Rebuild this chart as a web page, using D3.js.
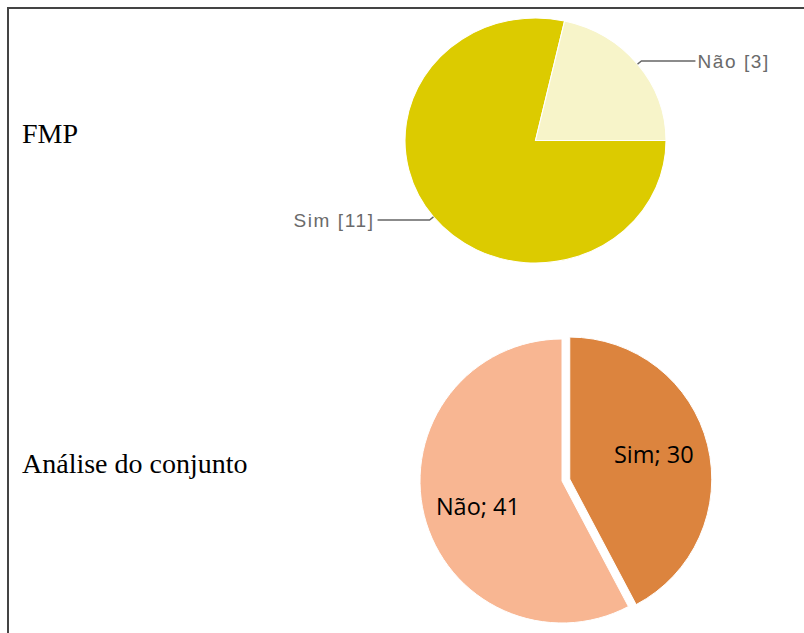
<!DOCTYPE html>
<html>
<head>
<meta charset="utf-8">
<script src="https://cdn.jsdelivr.net/npm/d3@7"></script>
<style>
  html, body { margin: 0; padding: 0; background: #fff; }
  svg { display: block; }
</style>
</head>
<body>
<div id="chart"></div>
<script>
// FMP (top pie)
const fmpLabels = ['Sim', 'Não'];
const fmpValues = [11, 3];
const fmpColors = ['#dccb00', '#f7f4c9'];

// Análise do conjunto (bottom pie)
const conjLabels = ['Sim', 'Não'];
const conjValues = [30, 41];
const conjColors = ['#dc843e', '#f8b692'];

const rowTitles = ['FMP', 'Análise do conjunto'];

const width = 804, height = 633;

const svg = d3.select('#chart').append('svg')
  .attr('width', width)
  .attr('height', height);

// table borders (top + left)
svg.append('line')
  .attr('x1', 7).attr('x2', width)
  .attr('y1', 8).attr('y2', 8)
  .attr('stroke', '#444').attr('stroke-width', 2);
svg.append('line')
  .attr('x1', 8).attr('x2', 8)
  .attr('y1', 7).attr('y2', height)
  .attr('stroke', '#444').attr('stroke-width', 2);

// row titles
svg.selectAll('text.row')
  .data(rowTitles)
  .enter().append('text')
  .attr('class', 'row')
  .attr('x', 22)
  .attr('y', (d, i) => [143, 473][i])
  .attr('font-family', '"Liberation Serif", "Times New Roman", serif')
  .attr('font-size', 28)
  .attr('fill', '#000')
  .text(d => d);

// ---- top pie (google chart look, stretched horizontally) ----
const topCx = 535.5, topCy = 140.5, topRy = 122.5, topRx = 130.5;
const sx = topRx / topRy;

const topPie = d3.pie()
  .sort(null)
  .startAngle(Math.PI / 2)
  .endAngle(Math.PI / 2 + 2 * Math.PI)
  .value(d => d);

const topArcs = topPie(fmpValues);
const topArc = d3.arc().innerRadius(0).outerRadius(topRy);

const gTop = svg.append('g')
  .attr('transform', `translate(${topCx},${topCy}) scale(${sx},1)`);

gTop.selectAll('path')
  .data(topArcs)
  .enter().append('path')
  .attr('d', topArc)
  .attr('fill', (d, i) => fmpColors[i])
  .attr('stroke', '#fff')
  .attr('stroke-width', 1);

// leader lines + labels
const gTopLab = svg.append('g');
topArcs.forEach((d, i) => {
  const a = (d.startAngle + d.endAngle) / 2;
  const ex = topCx + topRx * Math.sin(a);
  const ey = topCy - topRy * Math.cos(a);
  const bx = ex + 5 * Math.sin(a);
  const by = ey - 5 * Math.cos(a);
  const right = Math.sin(a) > 0;
  const hx = right ? bx + 54 : bx - 52;
  gTopLab.append('path')
    .attr('d', d3.line()([[ex, ey], [bx, by], [hx, by]]))
    .attr('fill', 'none')
    .attr('stroke', '#666')
    .attr('stroke-width', 1.3);
  gTopLab.append('text')
    .attr('x', right ? hx + 2 : hx - 3)
    .attr('y', by + 7)
    .attr('text-anchor', right ? 'start' : 'end')
    .attr('font-family', '"Liberation Sans", Arial, sans-serif')
    .attr('font-size', 19)
    .attr('letter-spacing', 1.6)
    .attr('fill', '#6a6a6a')
    .text(`${fmpLabels[i]} [${fmpValues[i]}]`);
});

// ---- bottom pie (excel look, Sim exploded) ----
const botCx = 562, botCy = 481, botR = 142, explode = 8;

const botPie = d3.pie().sort(null).value(d => d);
const botArcs = botPie(conjValues);
const botArc = d3.arc().innerRadius(0).outerRadius(botR);
const labArc = d3.arc().innerRadius(botR * 0.61).outerRadius(botR * 0.61);

const gBot = svg.append('g')
  .attr('transform', `translate(${botCx},${botCy})`);

const slices = gBot.selectAll('g.slice')
  .data(botArcs)
  .enter().append('g')
  .attr('class', 'slice')
  .attr('transform', (d, i) => {
    if (i !== 0) return null;
    const a = (d.startAngle + d.endAngle) / 2;
    return `translate(${explode * Math.sin(a)},${-explode * Math.cos(a)})`;
  });

slices.append('path')
  .attr('d', botArc)
  .attr('fill', (d, i) => conjColors[i])
  .attr('stroke', '#fff')
  .attr('stroke-width', 1);

slices.append('text')
  .attr('transform', d => `translate(${labArc.centroid(d)})`)
  .attr('text-anchor', 'middle')
  .attr('dy', (d, i) => i === 0 ? '0.2em' : '0.55em')
  .attr('font-family', '"Open Sans", "Noto Sans", sans-serif')
  .attr('font-size', 23.5)
  .attr('fill', '#000')
  .text((d, i) => `${conjLabels[i]}; ${conjValues[i]}`);
</script>
</body>
</html>
